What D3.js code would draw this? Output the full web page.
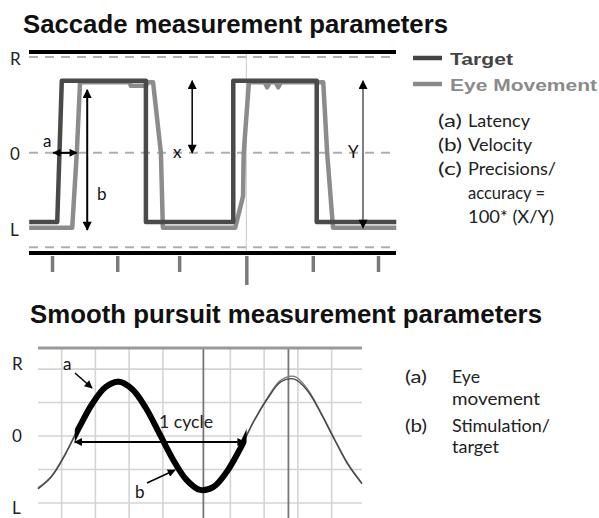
<!DOCTYPE html>
<html>
<head>
<meta charset="utf-8">
<script src="https://cdn.jsdelivr.net/npm/d3@7"></script>
<style>
  html, body { margin: 0; padding: 0; background: #fff; }
  svg { display: block; }
</style>
</head>
<body>
<script>
// ---------------- DATA ----------------
// Saccade panel (time in arbitrary units, position: +1 = right, -1 = left)
const sacTicks = [0, 1, 1.95, 2.98, 4, 5];
const sacLongTick = 2.98;
const targetT = [-0.35, 0.08, 0.15, 1.44, 1.44, 2.78, 2.78, 4.06, 4.06, 5.28];
const targetY = [-0.96, -0.96, 1.0, 1.0, -0.96, -0.96, 1.0, 1.0, -0.96, -0.96];
const eyeT = [-0.35, 0.31, 0.38, 0.43, 1.19, 1.21, 1.44, 1.47, 1.55, 1.67, 1.70, 2.81, 2.93, 2.94, 3.02, 3.26, 3.30, 3.34, 3.43, 3.47, 3.51, 4.16, 4.22, 4.31, 5.28];
const eyeY = [-1.04, -1.04, 0, 0.98, 0.98, 0.93, 0.93, 0.98, 0.98, 0, -1.04, -1.04, -0.6, 0, 0.98, 0.98, 0.91, 0.98, 0.98, 0.91, 0.98, 0.98, 0, -1.04, -1.04];
const sacSolidLevels = [1.40, -1.39];
const sacDashedLevels = [1.33, 0, -1.31];
const sacLevelLabels = ["R", "0", "L"];
const sacLegend = ["Target", "Eye Movement"];
const sacListKeys = ["(a)", "(b)", "(c)", "", ""];
const sacListItems = ["Latency", "Velocity", "Precisions/", "accuracy =", "100* (X/Y)"];

// Smooth pursuit panel (time in grid units, position in grid units)
const purT = [-0.7, -0.3, 0.1, 0.5, 0.9, 1.3, 1.7, 2.1, 2.5, 2.9, 3.3, 3.7, 4.1, 4.5, 4.9, 5.3, 5.7, 6.1, 6.5, 6.9, 7.3, 7.7, 8.1, 8.5, 8.9];
const purTarget = [-1.58, -1.22, -0.57, 0.22, 0.95, 1.46, 1.62, 1.39, 0.83, 0.07, -0.70, -1.31, -1.61, -1.52, -1.06, -0.36, 0.44, 1.11, 1.62, 1.70, 1.33, 0.64, -0.14, -0.88, -1.43];
const purEye = [-1.55, -1.19, -0.54, 0.26, 1.02, 1.52, 1.69, 1.42, 0.86, 0.09, -0.68, -1.29, -1.60, -1.50, -1.04, -0.33, 0.47, 1.15, 1.67, 1.78, 1.38, 0.67, -0.11, -0.85, -1.41];
const purGridX = [0, 1, 2, 3, 5, 6, 7, 8];
const purDarkX = [4.2, 6.72];
const purGridY = [-2, -1, 0, 1, 2];
const purTop = 2.63;
const cycleStart = 0.39, cycleEnd = 5.48;
const purLevelLabels = ["R", "0", "L"];
const purListKeys = ["(a)", "", "(b)", ""];
const purListItems = ["Eye", "movement", "Stimulation/", "target"];

// ---------------- SETUP ----------------
const W = 599, H = 518;
const svg = d3.select("body").append("svg").attr("width", W).attr("height", H)
  .style("font-family", "Lato, 'Open Sans', sans-serif");
svg.append("rect").attr("width", W).attr("height", H).attr("fill", "#fff");

const defs = svg.append("defs");
function marker(id, len, wid) {
  defs.append("marker").attr("id", id)
    .attr("viewBox", "0 0 10 10").attr("refX", 9).attr("refY", 5)
    .attr("markerWidth", len).attr("markerHeight", wid)
    .attr("markerUnits", "userSpaceOnUse")
    .attr("orient", "auto-start-reverse")
    .append("path").attr("d", "M0,0L10,5L0,10z").attr("fill", "#000");
}
marker("ah", 10, 9);
marker("ahs", 9, 8);

function txt(g, s, x, y, opts) {
  const t = g.append("text").attr("x", x).attr("y", y).text(s);
  if (opts.size) t.attr("font-size", opts.size);
  if (opts.weight) t.attr("font-weight", opts.weight);
  if (opts.fill) t.attr("fill", opts.fill);
  if (opts.family) t.attr("font-family", opts.family);
  if (opts.len) t.attr("textLength", opts.len).attr("lengthAdjust", "spacingAndGlyphs");
  if (opts.anchor) t.attr("text-anchor", opts.anchor);
  return t;
}

// ---------------- TITLES ----------------
txt(svg, "Saccade measurement parameters", 23, 33, {size: 25.5, weight: "bold", fill: "#111", family: "'Liberation Sans', Arial, sans-serif", len: 425});
txt(svg, "Smooth pursuit measurement parameters", 30, 323, {size: 25.5, weight: "bold", fill: "#111", family: "'Liberation Sans', Arial, sans-serif", len: 512});

// ---------------- SACCADE PANEL ----------------
const sx = d3.scaleLinear().domain([-0.353, 5.276]).range([29, 396]);
const sy = d3.scaleLinear().domain([-1.39, 1.40]).range([253, 52]);
const gs = svg.append("g");

// dashed reference lines
gs.selectAll("line.dash").data(sacDashedLevels).join("line")
  .attr("x1", sx.range()[0]).attr("x2", sx.range()[1])
  .attr("y1", d => sy(d)).attr("y2", d => sy(d))
  .attr("stroke", "#b0b0b0").attr("stroke-width", 2).attr("stroke-dasharray", "9,7");

// thin vertical line
gs.append("line").attr("x1", sx(sacLongTick)).attr("x2", sx(sacLongTick))
  .attr("y1", sy(sacSolidLevels[0])).attr("y2", sy(sacSolidLevels[1]))
  .attr("stroke", "#c8c8c8").attr("stroke-width", 1);

// ticks via axis
const sAxis = d3.axisBottom(sx).tickValues(sacTicks).tickSize(16).tickFormat("");
const ga = gs.append("g").attr("transform", `translate(0,${sy(sacSolidLevels[1]) + 3})`).call(sAxis);
ga.select(".domain").remove();
ga.selectAll(".tick line").attr("stroke", "#7a7a7a").attr("stroke-width", 3.5)
  .attr("y2", d => d === sacLongTick ? 29 : 16);

// series
const sLine = d3.line().x(d => sx(d[0])).y(d => sy(d[1]));
gs.append("path").attr("d", sLine(eyeT.map((t, i) => [t, eyeY[i]])))
  .attr("fill", "none").attr("stroke", "#8c8c8c").attr("stroke-width", 4.5).attr("stroke-linejoin", "round");
gs.append("path").attr("d", sLine(targetT.map((t, i) => [t, targetY[i]])))
  .attr("fill", "none").attr("stroke", "#4a4a4a").attr("stroke-width", 4.5).attr("stroke-linejoin", "round");

// solid boundaries
gs.selectAll("line.solid").data(sacSolidLevels).join("line")
  .attr("x1", sx.range()[0]).attr("x2", sx.range()[1])
  .attr("y1", d => sy(d)).attr("y2", d => sy(d))
  .attr("stroke", "#000").attr("stroke-width", 4);

// level labels
[[sacLevelLabels[0], 65], [sacLevelLabels[1], 160], [sacLevelLabels[2], 236]].forEach(([s, y]) =>
  txt(gs, s, 10, y, {size: 17, fill: "#222"}));

// arrows
function arrow(g, x1, y1, x2, y2, w, m) {
  g.append("line").attr("x1", x1).attr("y1", y1).attr("x2", x2).attr("y2", y2)
    .attr("stroke", "#000").attr("stroke-width", w)
    .attr("marker-start", `url(#${m})`).attr("marker-end", `url(#${m})`);
}
arrow(gs, sx(0.02), sy(0), sx(0.38), sy(0), 2, "ahs");          // a
arrow(gs, sx(0.54), sy(0.875), sx(0.54), sy(-1.07), 2, "ah");    // b
arrow(gs, sx(2.15), sy(1.0), sx(2.15), sy(0), 1.5, "ah");        // x
arrow(gs, sx(4.77), sy(1.0), sx(4.77), sy(-1.04), 1, "ah");      // Y
txt(gs, "a", 43, 147, {size: 17, fill: "#111"});
txt(gs, "b", 97, 200, {size: 17, fill: "#111"});
const xl = txt(gs, "x", 173, 158, {size: 17, fill: "#111"});
txt(gs, "Y", 348, 158, {size: 17, fill: "#111"});

// legend
const legY = [58, 84];
const legC = ["#444", "#8a8a8a"];
const legLen = [63, 147];
sacLegend.forEach((s, i) => {
  gs.append("line").attr("x1", 413).attr("x2", 442).attr("y1", legY[i]).attr("y2", legY[i])
    .attr("stroke", legC[i]).attr("stroke-width", 4.5);
  txt(gs, s, 450, legY[i] + 6.5, {size: 17, weight: "bold", fill: legC[i], family: "'Liberation Sans', Arial, sans-serif", len: legLen[i]});
});

// parameter list
const listBase = [127, 151, 175, 199, 223];
const listLen = [62, 64, 88, 77, 86];
sacListItems.forEach((s, i) => {
  if (sacListKeys[i]) txt(gs, sacListKeys[i], 438, listBase[i], {size: 16.5, fill: "#222", len: 24});
  txt(gs, s, 468, listBase[i], {size: 16.5, fill: "#222", len: listLen[i]});
});

// ---------------- SMOOTH PURSUIT PANEL ----------------
const px = d3.scaleLinear().domain([-0.7, 8.9]).range([38, 362]);
const py = d3.scaleLinear().domain([-2.45, 2.63]).range([518, 348]);
const gp = svg.append("g");

gp.selectAll("line.gy").data(purGridY).join("line")
  .attr("x1", px.range()[0]).attr("x2", px.range()[1])
  .attr("y1", d => py(d)).attr("y2", d => py(d))
  .attr("stroke", "#d4d4d4").attr("stroke-width", 1.6);
gp.selectAll("line.gx").data(purGridX).join("line")
  .attr("x1", d => px(d)).attr("x2", d => px(d))
  .attr("y1", py(purTop)).attr("y2", H)
  .attr("stroke", "#d4d4d4").attr("stroke-width", 1.6);
gp.selectAll("line.dx").data(purDarkX).join("line")
  .attr("x1", d => px(d)).attr("x2", d => px(d))
  .attr("y1", py(purTop)).attr("y2", H)
  .attr("stroke", "#777").attr("stroke-width", 1.8);
gp.append("line").attr("x1", px.range()[0]).attr("x2", px.range()[1])
  .attr("y1", py(purTop)).attr("y2", py(purTop))
  .attr("stroke", "#9a9a9a").attr("stroke-width", 3);

const pLine = d3.line().x(d => px(d[0])).y(d => py(d[1])).curve(d3.curveCatmullRom.alpha(0.5));
const tgtPts = purT.map((t, i) => [t, purTarget[i]]);
const eyePts = purT.map((t, i) => [t, purEye[i]]);
gp.append("path").attr("d", pLine(eyePts)).attr("fill", "none").attr("stroke", "#777").attr("stroke-width", 1.3);
gp.append("path").attr("d", pLine(tgtPts)).attr("fill", "none").attr("stroke", "#444").attr("stroke-width", 1.3);

defs.append("clipPath").attr("id", "cyc").append("rect")
  .attr("x", px(cycleStart)).attr("width", px(cycleEnd) - px(cycleStart))
  .attr("y", 0).attr("height", H);
gp.append("path").attr("d", pLine(tgtPts)).attr("clip-path", "url(#cyc)")
  .attr("fill", "none").attr("stroke", "#000").attr("stroke-width", 6);

// 1 cycle arrow
arrow(gp, px(cycleStart), 442, px(cycleEnd) - 2, 442, 2, "ahs");
txt(gp, "1 cycle", 159, 428, {size: 17, fill: "#222", len: 54});

// a / b pointers
function pointer(g, x1, y1, x2, y2) {
  g.append("line").attr("x1", x1).attr("y1", y1).attr("x2", x2).attr("y2", y2)
    .attr("stroke", "#000").attr("stroke-width", 1.5).attr("marker-end", "url(#ahs)");
}
txt(gp, "a", 63, 370, {size: 17, fill: "#111"});
pointer(gp, 75, 373, 92, 388);
txt(gp, "b", 135, 498, {size: 17, fill: "#111"});
pointer(gp, 147, 483, 175, 470);

// level labels
[[purLevelLabels[0], 370], [purLevelLabels[1], 442], [purLevelLabels[2], 514]].forEach(([s, y]) =>
  txt(gp, s, 12, y, {size: 17, fill: "#222"}));

// legend list
const pBase = [383, 405, 432, 453];
const pLen = [28, 88, 98, 47];
purListItems.forEach((s, i) => {
  if (purListKeys[i]) txt(gp, purListKeys[i], 405, pBase[i], {size: 16.5, fill: "#222", len: 22});
  txt(gp, s, 452, pBase[i], {size: 16.5, fill: "#222", len: pLen[i]});
});
</script>
</body>
</html>
